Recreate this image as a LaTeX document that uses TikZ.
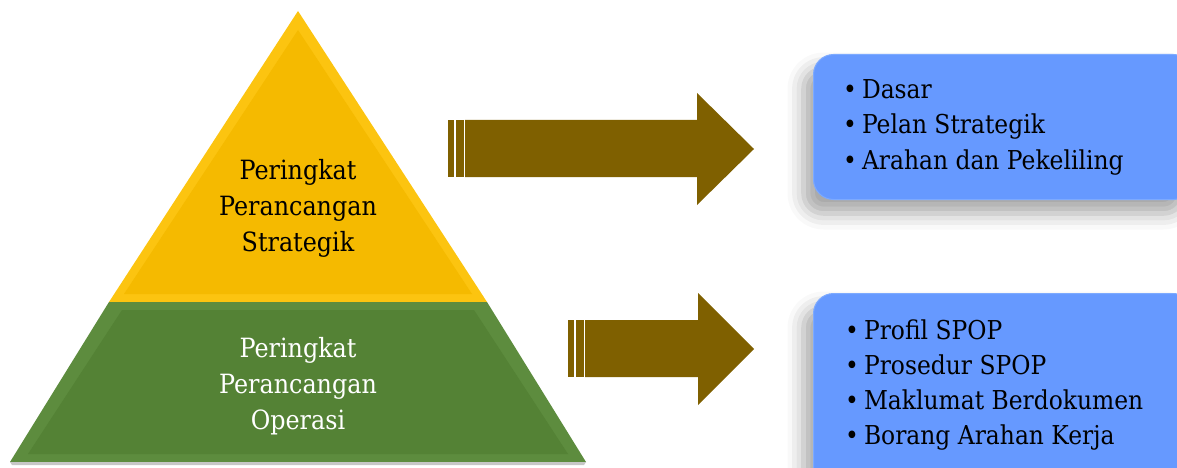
\documentclass[tikz,border=0pt]{standalone}
\usepackage{fontspec}
\setmainfont[FakeStretch=0.9]{DejaVu Serif}
\usetikzlibrary{shadows.blur}
\definecolor{gold}{RGB}{245,186,0}
\definecolor{goldlight}{RGB}{252,196,16}
\definecolor{leaf}{RGB}{84,130,53}
\definecolor{leaflight}{RGB}{93,140,62}
\definecolor{bark}{RGB}{127,96,0}
\definecolor{sky}{RGB}{102,153,255}
\definecolor{skyedge}{RGB}{125,170,255}
\tikzset{
  levelfont/.style={font=\fontsize{26.5}{36}\selectfont, align=center, inner sep=0pt},
  listbox/.style={fill=sky, draw=skyedge, line width=1pt, rounded corners=20pt,
    blur shadow={shadow xshift=-10pt, shadow yshift=-14pt, shadow blur radius=16pt, shadow opacity=35}},
  listline/.style={font=\fontsize{26}{35}\selectfont, anchor=base west, inner sep=0pt},
  blockarrow/.style={fill=bark, draw=none},
  tailbar/.style={fill=bark, draw=none}
}
\newcommand{\dotitem}[1]{\textbullet\hspace{5pt}#1}
\begin{document}
\begin{tikzpicture}[x=1pt, y=-1pt]
\useasboundingbox (0,0) rectangle (1177,468);

% pyramid: upper (strategic) and lower (operational) tiers, with a light bevel rim
\coordinate (apex) at (298,11);
\fill[goldlight] (apex) -- (487,302) -- (109,302) -- cycle;
\fill[gold] (298,30) -- (472,294) -- (124,294) -- cycle;
\fill[leaflight] (109,302) -- (487,302) -- (586,462) -- (10,462) -- cycle;
\fill[leaf] (122,310) -- (474,310) -- (568,454) -- (28,454) -- cycle;
\fill[black!22] (10,462) -- (586,462) -- (584,465) -- (12,465) -- cycle;

\node[levelfont, text=black] (top) at (298,208) {Peringkat\\Perancangan\\Strategik};
\node[levelfont, text=white] (bottom) at (298,386) {Peringkat\\Perancangan\\Operasi};

% list boxes
\node[listbox, minimum width=380pt, minimum height=145pt, anchor=north west] (boxA) at (813,54) {};
\node[listbox, minimum width=380pt, minimum height=200pt, anchor=north west] (boxB) at (813,293) {};

\node[listline] (a1) at (843,99) {\dotitem{Dasar}};
\node[listline] (a2) at (843,134) {\dotitem{Pelan Strategik}};
\node[listline] (a3) at (843,169) {\dotitem{Arahan dan Pekeliling}};

\node[listline] (b1) at (845,339) {\dotitem{Profil SPOP}};
\node[listline] (b2) at (845,374) {\dotitem{Prosedur SPOP}};
\node[listline] (b3) at (845,409) {\dotitem{Maklumat Berdokumen}};
\node[listline] (b4) at (845,444) {\dotitem{Borang Arahan Kerja}};

% striped block arrows
\fill[tailbar] (448,120) rectangle (454,177);
\fill[tailbar] (456,120) rectangle (464,177);
\fill[blockarrow] (465,120) -- (697,120) -- (697,93) -- (754,149) -- (697,205) -- (697,177) -- (465,177) -- cycle;

\fill[tailbar] (568,320) rectangle (574,377);
\fill[tailbar] (576,320) rectangle (584,377);
\fill[blockarrow] (585,320) -- (698,320) -- (698,293) -- (754,349) -- (698,405) -- (698,377) -- (585,377) -- cycle;
\end{tikzpicture}
\end{document}
